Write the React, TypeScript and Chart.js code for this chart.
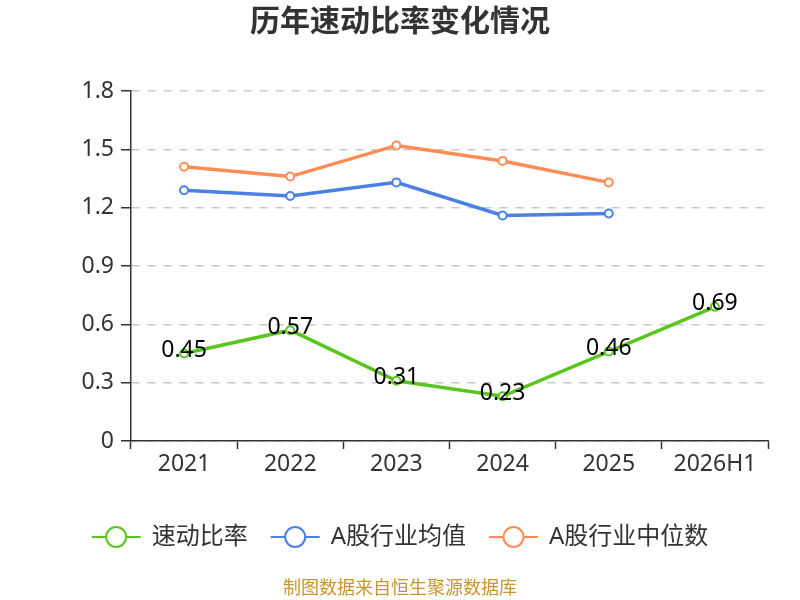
import { useEffect, useRef } from "react";
import Chart from "chart.js/auto";

const years = ["2021", "2022", "2023", "2024", "2025", "2026H1"];
const quickRatio = [0.45, 0.57, 0.31, 0.23, 0.46, 0.69];
const industryMean = [1.29, 1.26, 1.33, 1.16, 1.17, null];
const industryMedian = [1.41, 1.36, 1.52, 1.44, 1.33, null];

const seriesNames = ["速动比率", "A股行业均值", "A股行业中位数"];
const seriesColors = ["#5ac51e", "#4b80e5", "#ff8c55"];

const FONT = '"Noto Sans", "Noto Sans CJK SC", sans-serif';

// title, legend, footer and value labels
const decorPlugin = {
  id: "decor",
  afterDatasetsDraw(chart: any) {
    const { ctx } = chart;
    const meta = chart.getDatasetMeta(0);
    ctx.save();
    ctx.font = `23px ${FONT}`;
    ctx.fillStyle = "#000";
    ctx.textAlign = "center";
    ctx.textBaseline = "middle";
    meta.data.forEach((pt: any, i: number) => {
      const v = quickRatio[i];
      if (v == null) return;
      ctx.fillText(v.toFixed(2), pt.x, pt.y - 3);
    });
    ctx.restore();
  },
  afterDraw(chart: any) {
    const { ctx, width } = chart;
    ctx.save();
    // title
    ctx.font = `bold 30px ${FONT}`;
    ctx.fillStyle = "#333";
    ctx.textAlign = "center";
    ctx.textBaseline = "middle";
    ctx.fillText("历年速动比率变化情况", width / 2, 22);

    // legend
    ctx.font = `24px ${FONT}`;
    const markerW = 49;
    const textGap = 11;
    const itemGap = 23;
    const widths = seriesNames.map((n) => ctx.measureText(n).width);
    const total =
      widths.reduce((a, b) => a + b, 0) +
      seriesNames.length * (markerW + textGap) +
      (seriesNames.length - 1) * itemGap;
    let x = (width - total) / 2;
    const ly = 537;
    seriesNames.forEach((name, i) => {
      ctx.strokeStyle = seriesColors[i];
      ctx.lineWidth = 2;
      ctx.beginPath();
      ctx.moveTo(x, ly);
      ctx.lineTo(x + markerW, ly);
      ctx.stroke();
      ctx.beginPath();
      ctx.arc(x + markerW / 2, ly, 10, 0, Math.PI * 2);
      ctx.fillStyle = "#fff";
      ctx.fill();
      ctx.stroke();
      ctx.fillStyle = "#333";
      ctx.textAlign = "left";
      ctx.fillText(name, x + markerW + textGap, ly);
      x += markerW + textGap + widths[i] + itemGap;
    });

    // footer
    ctx.font = `18px ${FONT}`;
    ctx.fillStyle = "#c8962d";
    ctx.textAlign = "center";
    ctx.fillText("制图数据来自恒生聚源数据库", width / 2, 589);
    ctx.restore();
  },
};

function RatioChart() {
  const canvasRef = useRef<HTMLCanvasElement | null>(null);
  const chartRef = useRef<Chart | null>(null);

  useEffect(() => {
    const canvas = canvasRef.current;
    if (!canvas) return;
    if (chartRef.current) {
      chartRef.current.destroy();
      chartRef.current = null;
    }

    const data = [quickRatio, industryMean, industryMedian];
    const datasets = seriesNames.map((name, i) => ({
      label: name,
      data: data[i],
      borderColor: seriesColors[i],
      backgroundColor: seriesColors[i],
      borderWidth: 3.5,
      tension: 0,
      pointRadius: 4,
      pointBorderWidth: 2,
      pointBackgroundColor: "#fff",
      pointBorderColor: seriesColors[i],
      spanGaps: false,
    }));

    chartRef.current = new Chart(canvas, {
      type: "line",
      data: { labels: years, datasets },
      plugins: [decorPlugin],
      options: {
        animation: false,
        responsive: true,
        maintainAspectRatio: false,
        layout: { padding: { top: 91, right: 32, left: 0, bottom: 0 } },
        plugins: {
          legend: { display: false },
          title: { display: false },
          tooltip: { enabled: false },
        },
        scales: {
          x: {
            type: "category",
            offset: true,
            afterFit: (scale: any) => {
              scale.height = 159;
            },
            grid: {
              display: true,
              offset: true,
              drawOnChartArea: false,
              drawTicks: true,
              tickLength: 8,
              tickColor: "#333",
              tickWidth: 1.5,
            },
            border: { display: true, color: "#333", width: 1.5 },
            ticks: {
              color: "#333",
              font: { size: 23, family: FONT },
              padding: 2,
              maxRotation: 0,
              autoSkip: false,
            },
          },
          y: {
            min: 0,
            max: 1.8,
            afterFit: (scale: any) => {
              scale.width = 131;
            },
            grid: {
              color: "#c8c8c8",
              lineWidth: 1.5,
              drawTicks: true,
              tickLength: 10,
              tickColor: "#333",
              tickWidth: 1.5,
              tickBorderDash: [],
            },
            border: { display: true, color: "#333", width: 1.5, dash: [8, 8] },
            ticks: {
              stepSize: 0.3,
              color: "#333",
              font: { size: 23, family: FONT },
              padding: 7,
              callback: (v: any) => (Number(v) === 0 ? "0" : Number(v).toFixed(1)),
            },
          },
        },
      },
    });

    return () => {
      if (chartRef.current) {
        chartRef.current.destroy();
        chartRef.current = null;
      }
    };
  }, []);

  return (
    <div style={{ position: "relative", width: 800, height: 600 }}>
      <canvas ref={canvasRef} />
    </div>
  );
}

export default function App() {
  useEffect(() => {
    document.body.style.margin = "0";
  }, []);
  return <RatioChart />;
}
